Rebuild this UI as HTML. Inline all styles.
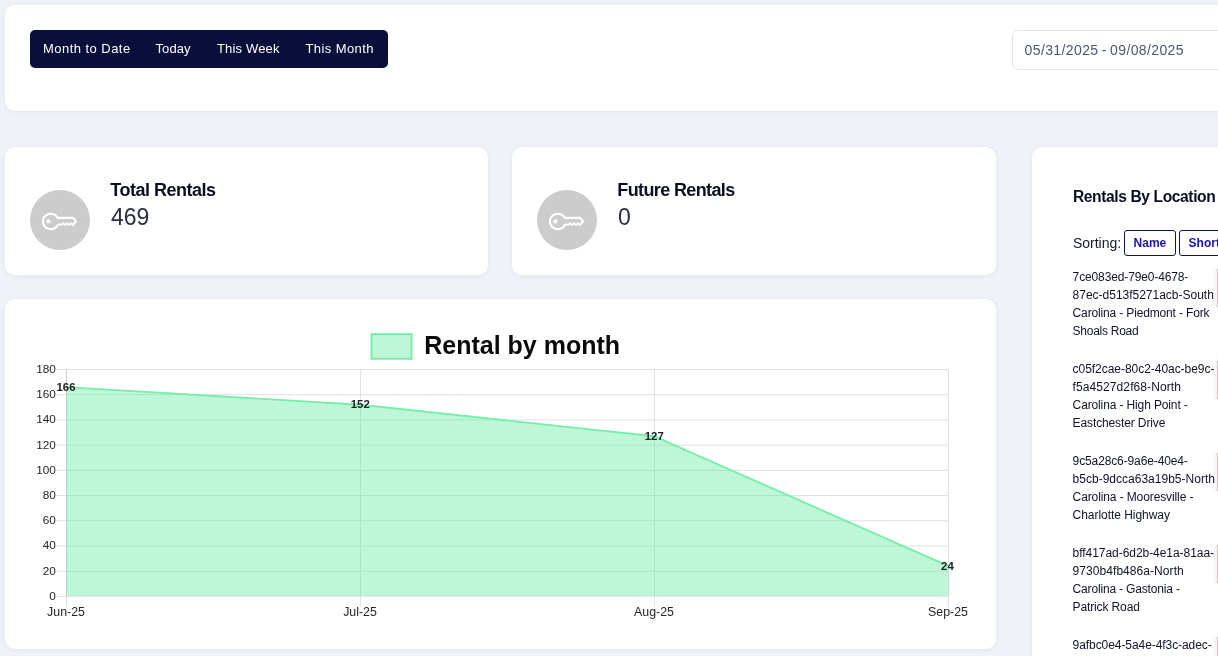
<!DOCTYPE html>
<html lang="en">
<head>
<meta charset="utf-8">
<title>Rentals Dashboard</title>
<style>
*{box-sizing:border-box;margin:0;padding:0}
html,body{width:1218px;height:656px;overflow:hidden}
body{background:#eff2f7;font-family:"Liberation Sans",sans-serif;color:#0f1127;position:relative}
.panel{position:absolute;background:#fff;border-radius:10px;box-shadow:0 1px 5px rgba(120,135,170,.10)}
.abs{position:absolute;white-space:nowrap}
/* top bar */
#top{left:5px;top:5px;width:1240px;height:106px}
#grp{left:30px;top:30px;width:358px;height:38px;background:#090e3b;border-radius:5px;color:#fff;font-size:13px}
#grp span{position:absolute;top:0;line-height:37px;white-space:nowrap}
#date{left:1011.6px;top:30px;width:260px;height:40px;border:1px solid #e1e6f0;border-radius:6px;background:#fff}
#date span{position:absolute;left:12px;top:0;line-height:38px;font-size:14px;color:#4b5675;letter-spacing:.38px;word-spacing:-1px;white-space:nowrap}
/* cards */
#c1{left:5px;top:147px;width:483px;height:128px}
#c2{left:512px;top:147px;width:484px;height:128px}
.circ{position:absolute;width:60px;height:60px;border-radius:50%;background:#cccccc;top:43px;left:25px}
.circ svg{position:absolute;left:0;top:0}
.ttl{position:absolute;left:105.3px;top:32px;font-size:18px;font-weight:bold;line-height:22px;letter-spacing:-.5px;white-space:nowrap;color:#0c0f24}
.num{position:absolute;left:106px;top:56px;font-size:23px;line-height:28px;white-space:nowrap;color:#2b2e46}
/* chart */
#chart{left:5px;top:299px;width:991px;height:350px}
#chart svg{position:absolute;left:0;top:0}
/* right */
#right{left:1032px;top:147px;width:260px;height:560px}
#rh{left:1072.9px;top:187.2px;font-size:15.6px;font-weight:bold;line-height:20px;letter-spacing:-.39px;color:#0c0f24}
#sort{left:1072.9px;top:232.6px;font-size:14px;line-height:20px;color:#15182d}
.sbtn{position:absolute;top:230px;height:26px;border:1px solid #11164d;border-radius:3px;background:#fff;color:#1c12ad;font-size:12px;font-weight:bold;line-height:25px;white-space:nowrap;padding-left:8.6px;letter-spacing:0}
.item span{display:block}
.item{position:absolute;left:1072.6px;width:150px;font-size:12px;line-height:18px;color:#0f1226;white-space:nowrap}
.bar{position:absolute;left:1216.8px;width:6px;height:38px;background:#f5bb9b;box-shadow:-2px 0 5px rgba(0,0,0,.06)}
</style>
</head>
<body>
<div class="panel" id="top"></div>
<div class="abs" id="grp">
  <span style="left:13px;letter-spacing:.46px">Month to Date</span>
  <span style="left:125.5px;letter-spacing:.1px">Today</span>
  <span style="left:187px;letter-spacing:.16px">This Week</span>
  <span style="left:275.5px;letter-spacing:.4px">This Month</span>
</div>
<div class="abs" id="date"><span>05/31/2025 - 09/08/2025</span></div>

<div class="panel" id="c1">
  <div class="circ"><svg width="60" height="60" viewBox="0 0 60 60"><path d="M27.9 35 A7.95 7.7 0 1 1 27.9 27.9 L43 27.9 L46.2 31.4 L42.8 35" fill="none" stroke="#fff" stroke-width="2.1" stroke-linejoin="round" stroke-linecap="round"/><path d="M42.8 35.2 L41 33.1 L38.8 35.2 L36.9 33.1 L34.8 35.2 L33 33.1 L30.9 35.2 L29.6 34 L27.9 35" fill="none" stroke="#fff" stroke-width="1.7" stroke-linejoin="round" stroke-linecap="round"/><circle cx="18.5" cy="31.4" r="2.1" fill="#fff"/></svg></div>
  <div class="ttl">Total Rentals</div>
  <div class="num">469</div>
</div>
<div class="panel" id="c2">
  <div class="circ"><svg width="60" height="60" viewBox="0 0 60 60"><path d="M27.9 35 A7.95 7.7 0 1 1 27.9 27.9 L43 27.9 L46.2 31.4 L42.8 35" fill="none" stroke="#fff" stroke-width="2.1" stroke-linejoin="round" stroke-linecap="round"/><path d="M42.8 35.2 L41 33.1 L38.8 35.2 L36.9 33.1 L34.8 35.2 L33 33.1 L30.9 35.2 L29.6 34 L27.9 35" fill="none" stroke="#fff" stroke-width="1.7" stroke-linejoin="round" stroke-linecap="round"/><circle cx="18.5" cy="31.4" r="2.1" fill="#fff"/></svg></div>
  <div class="ttl" style="letter-spacing:-.62px">Future Rentals</div>
  <div class="num">0</div>
</div>

<div class="panel" id="chart">
<svg width="991" height="350" viewBox="5 299 991 350" font-family="Liberation Sans, sans-serif">
<line x1="56.2" y1="369.50" x2="948.5" y2="369.50" stroke="#e0e0e9" stroke-width="1"/>
<line x1="56.2" y1="394.71" x2="948.5" y2="394.71" stroke="#e0e0e9" stroke-width="1"/>
<line x1="56.2" y1="419.92" x2="948.5" y2="419.92" stroke="#e0e0e9" stroke-width="1"/>
<line x1="56.2" y1="445.13" x2="948.5" y2="445.13" stroke="#e0e0e9" stroke-width="1"/>
<line x1="56.2" y1="470.34" x2="948.5" y2="470.34" stroke="#e0e0e9" stroke-width="1"/>
<line x1="56.2" y1="495.56" x2="948.5" y2="495.56" stroke="#e0e0e9" stroke-width="1"/>
<line x1="56.2" y1="520.77" x2="948.5" y2="520.77" stroke="#e0e0e9" stroke-width="1"/>
<line x1="56.2" y1="545.98" x2="948.5" y2="545.98" stroke="#e0e0e9" stroke-width="1"/>
<line x1="56.2" y1="571.19" x2="948.5" y2="571.19" stroke="#e0e0e9" stroke-width="1"/>
<line x1="56.2" y1="596.40" x2="948.5" y2="596.40" stroke="#e0e0e9" stroke-width="1"/>
<line x1="66.50" y1="369.50" x2="66.50" y2="596.40" stroke="#c9c9d6" stroke-width="1"/>
<line x1="66.50" y1="596.40" x2="66.50" y2="606.70" stroke="#e0e0e9" stroke-width="1"/>
<line x1="360.50" y1="369.50" x2="360.50" y2="596.40" stroke="#e0e0e9" stroke-width="1"/>
<line x1="360.50" y1="596.40" x2="360.50" y2="606.70" stroke="#e0e0e9" stroke-width="1"/>
<line x1="654.50" y1="369.50" x2="654.50" y2="596.40" stroke="#e0e0e9" stroke-width="1"/>
<line x1="654.50" y1="596.40" x2="654.50" y2="606.70" stroke="#e0e0e9" stroke-width="1"/>
<line x1="948.50" y1="369.50" x2="948.50" y2="596.40" stroke="#e0e0e9" stroke-width="1"/>
<line x1="948.50" y1="596.40" x2="948.50" y2="606.70" stroke="#e0e0e9" stroke-width="1"/>
<polygon points="66.50,596.10 66.50,387.15 360.50,404.80 654.50,436.31 948.50,566.15 948.50,596.10" fill="rgba(79,233,150,0.37)"/>
<polyline points="66.50,387.15 360.50,404.80 654.50,436.31 948.50,566.15" fill="none" stroke="#7bedaa" stroke-width="1.9" stroke-linejoin="round"/>
<text x="55.9" y="373.00" text-anchor="end" font-size="11.8" fill="#262626">180</text>
<text x="55.9" y="398.21" text-anchor="end" font-size="11.8" fill="#262626">160</text>
<text x="55.9" y="423.42" text-anchor="end" font-size="11.8" fill="#262626">140</text>
<text x="55.9" y="448.63" text-anchor="end" font-size="11.8" fill="#262626">120</text>
<text x="55.9" y="473.84" text-anchor="end" font-size="11.8" fill="#262626">100</text>
<text x="55.9" y="499.06" text-anchor="end" font-size="11.8" fill="#262626">80</text>
<text x="55.9" y="524.27" text-anchor="end" font-size="11.8" fill="#262626">60</text>
<text x="55.9" y="549.48" text-anchor="end" font-size="11.8" fill="#262626">40</text>
<text x="55.9" y="574.69" text-anchor="end" font-size="11.8" fill="#262626">20</text>
<text x="55.9" y="599.90" text-anchor="end" font-size="11.8" fill="#262626">0</text>
<text x="66.00" y="615.7" text-anchor="middle" font-size="12.36" fill="#262626">Jun-25</text>
<text x="360.00" y="615.7" text-anchor="middle" font-size="12.36" fill="#262626">Jul-25</text>
<text x="654.00" y="615.7" text-anchor="middle" font-size="12.36" fill="#262626">Aug-25</text>
<text x="948.00" y="615.7" text-anchor="middle" font-size="12.36" fill="#262626">Sep-25</text>
<text x="66.00" y="391.05" text-anchor="middle" font-size="11.4" font-weight="bold" fill="#222">166</text>
<text x="360.30" y="407.90" text-anchor="middle" font-size="11.4" font-weight="bold" fill="#222">152</text>
<text x="654.30" y="440.21" text-anchor="middle" font-size="11.4" font-weight="bold" fill="#222">127</text>
<text x="947.40" y="570.05" text-anchor="middle" font-size="11.4" font-weight="bold" fill="#222">24</text>
<rect x="371.5" y="334.1" width="40" height="24.7" fill="rgba(79,233,150,0.37)" stroke="#7bedaa" stroke-width="2"/>
<text x="424.2" y="353.6" font-size="25" font-weight="bold" fill="#0a0a0a">Rental by month</text>
</svg>
</div>

<div class="panel" id="right"></div>
<div class="abs" id="rh">Rentals By Location</div>
<div class="abs" id="sort">Sorting:</div>
<div class="sbtn" style="left:1124px;width:52px">Name</div>
<div class="sbtn" style="left:1179px;width:70px">Shortest</div>

<div class="item" style="top:267.8px"><span style="letter-spacing:-0.13px">7ce083ed-79e0-4678-</span><span style="letter-spacing:-0.01px">87ec-d513f5271acb-South</span><span style="letter-spacing:-0.15px">Carolina - Piedmont - Fork</span><span style="letter-spacing:-0.26px">Shoals Road</span></div>
<div class="item" style="top:359.8px"><span style="letter-spacing:-0.04px">c05f2cae-80c2-40ac-be9c-</span><span style="letter-spacing:0.09px">f5a4527d2f68-North</span><span style="letter-spacing:-0.13px">Carolina - High Point -</span><span style="letter-spacing:-0.12px">Eastchester Drive</span></div>
<div class="item" style="top:451.8px"><span style="letter-spacing:-0.12px">9c5a28c6-9a6e-40e4-</span><span style="letter-spacing:0.01px">b5cb-9dcca63a19b5-North</span><span style="letter-spacing:-0.11px">Carolina - Mooresville -</span><span style="letter-spacing:-0.04px">Charlotte Highway</span></div>
<div class="item" style="top:543.8px"><span style="letter-spacing:-0.05px">bff417ad-6d2b-4e1a-81aa-</span><span style="letter-spacing:0.06px">9730b4fb486a-North</span><span style="letter-spacing:-0.17px">Carolina - Gastonia -</span><span style="letter-spacing:-0.13px">Patrick Road</span></div>
<div class="item" style="top:635.8px"><span style="letter-spacing:-0.07px">9afbc0e4-5a4e-4f3c-adec-</span></div>
<div class="bar" style="top:269px"></div>
<div class="bar" style="top:361px"></div>
<div class="bar" style="top:453px"></div>
<div class="bar" style="top:545px"></div>
<div class="bar" style="top:637px"></div>
</body>
</html>
